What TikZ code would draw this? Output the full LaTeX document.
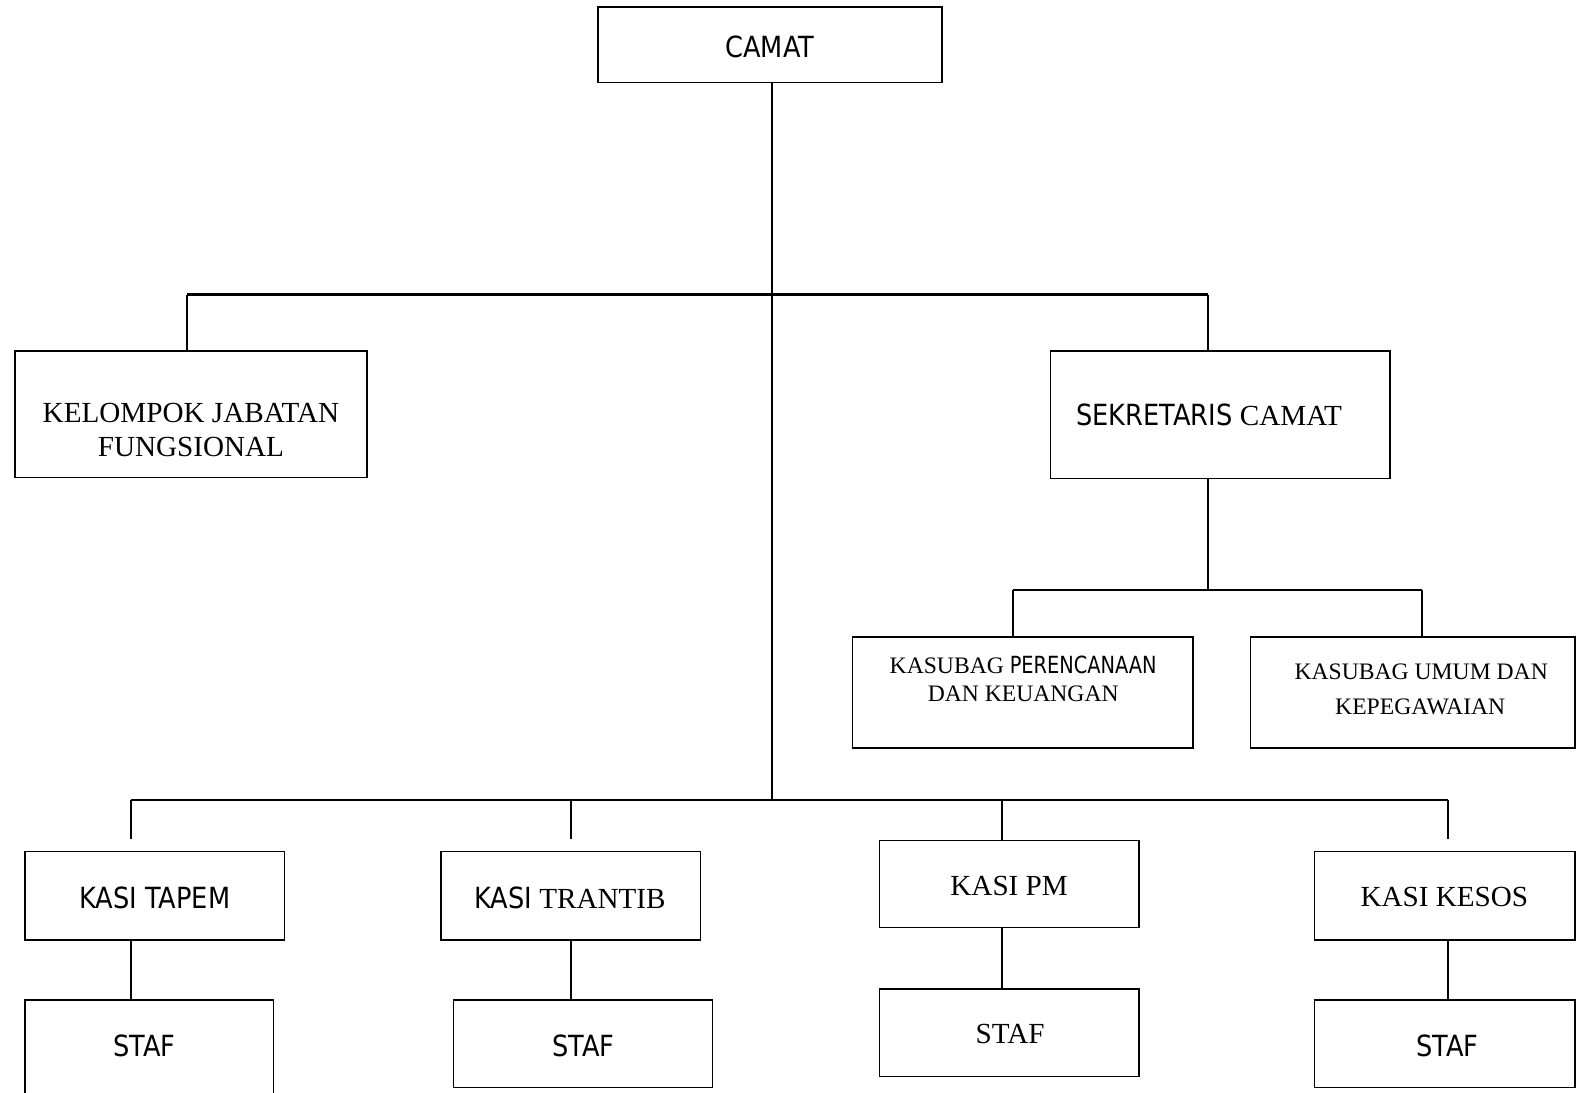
\documentclass[tikz,border=0pt]{standalone}
\usepackage{fontspec}
\setmainfont{Liberation Serif}
\newfontfamily\sanswide[FakeStretch=0.88]{DejaVu Sans}
\newfontfamily\sansnarrow[FakeStretch=0.82]{DejaVu Sans}
\begin{document}
\begin{tikzpicture}[x=1pt,y=-1pt,
  box/.style={draw=black, line width=1.5pt, rectangle, inner sep=0pt, outer sep=0pt},
  conn/.style={draw=black, line width=2pt},
  txt/.style={inner sep=0pt, outer sep=0pt, anchor=base, font=\fontsize{29}{34}\selectfont},
  stxt/.style={inner sep=0pt, outer sep=0pt, anchor=base, font=\fontsize{23.5}{28}\selectfont}]
\useasboundingbox[fill=white] (0,0) rectangle (1568,1087);
% boxes
\node[box, minimum width=342pt, minimum height=75pt] (camat) at (766,44.5) {};
\node[box, minimum width=350pt, minimum height=126pt] (kel) at (190,412) {};
\node[box, minimum width=338pt, minimum height=127pt] (sek) at (1214,412.5) {};
\node[box, minimum width=339pt, minimum height=110pt] (ksb1) at (1017.5,689) {};
\node[box, minimum width=323pt, minimum height=110pt] (ksb2) at (1405.5,689) {};
\node[box, minimum width=258pt, minimum height=88pt] (tapem) at (154,891) {};
\node[box, minimum width=258pt, minimum height=88pt] (trantib) at (568,891) {};
\node[box, minimum width=258pt, minimum height=87pt] (pm) at (1004,879.5) {};
\node[box, minimum width=259pt, minimum height=88pt] (kesos) at (1437.5,891) {};
\node[box, minimum width=247pt, minimum height=105pt] (staf1) at (148.5,1047.5) {};
\node[box, minimum width=258pt, minimum height=87pt] (staf2) at (580,1038.5) {};
\node[box, minimum width=258pt, minimum height=87pt] (staf3) at (1004,1027.5) {};
\node[box, minimum width=259pt, minimum height=87pt] (staf4) at (1437.5,1038.5) {};
% texts
\node[txt] (tcamat) at (766,57) {\sanswide CAMAT};
\node[txt] (tkel1) at (190,420) {KELOMPOK JABATAN};
\node[txt] (tkel2) at (190,454) {FUNGSIONAL};
\node[txt] (tsek) at (1203,423) {{\sanswide SEKRETARIS} CAMAT};
\node[stxt] (tksb1a) at (1018,670) {KASUBAG {\sansnarrow PERENCANAAN}};
\node[stxt] (tksb1b) at (1018,698) {DAN KEUANGAN};
\node[stxt] (tksb2a) at (1414,676) {KASUBAG UMUM DAN};
\node[stxt] (tksb2b) at (1413,711) {KEPEGAWAIAN};
\node[txt] (ttapem) at (154,904) {\sanswide KASI TAPEM};
\node[txt] (ttrantib) at (567,904) {{\sanswide KASI} TRANTIB};
\node[txt] (tpm) at (1004,891) {KASI PM};
\node[txt] (tkesos) at (1437,902) {KASI KESOS};
\node[txt] (tstaf1) at (143.5,1051) {\sanswide STAF};
\node[txt] (tstaf2) at (580.5,1051) {\sanswide STAF};
\node[txt] (tstaf3) at (1005,1038) {STAF};
\node[txt] (tstaf4) at (1440,1051) {\sanswide STAF};
% bus coordinates
\coordinate (uL) at (186,293);
\coordinate (uR) at (1202,293);
\coordinate (lC) at (768,796);
\coordinate (lL) at (130,796);
\coordinate (lR) at (1441,796);
\coordinate (l2) at (568,796);
\coordinate (l3) at (997,796);
\coordinate (d1) at (130,835);
\coordinate (d2) at (568,835);
\coordinate (d4) at (1441,835);
\coordinate (sB) at (1202,587);
\coordinate (sL) at (1008,587);
\coordinate (sR) at (1415,587);
% connectors
\draw[conn] (lC |- camat.south) -- (lC);
\draw[conn] (uL) -- (uR);
\draw[conn] (uL) -- (uL |- kel.north);
\draw[conn] (uR) -- (uR |- sek.north);
\draw[conn] (sB |- sek.south) -- (sB);
\draw[conn] (sL) -- (sR);
\draw[conn] (sL) -- (sL |- ksb1.north);
\draw[conn] (sR) -- (sR |- ksb2.north);
\draw[conn] (lL) -- (lR);
\draw[conn] (lL) -- (d1);
\draw[conn] (l2) -- (d2);
\draw[conn] (l3) -- (l3 |- pm.north);
\draw[conn] (lR) -- (d4);
\draw[conn] (lL |- tapem.south) -- (lL |- staf1.north);
\draw[conn] (l2 |- trantib.south) -- (l2 |- staf2.north);
\draw[conn] (l3 |- pm.south) -- (l3 |- staf3.north);
\draw[conn] (lR |- kesos.south) -- (lR |- staf4.north);
\end{tikzpicture}
\end{document}
